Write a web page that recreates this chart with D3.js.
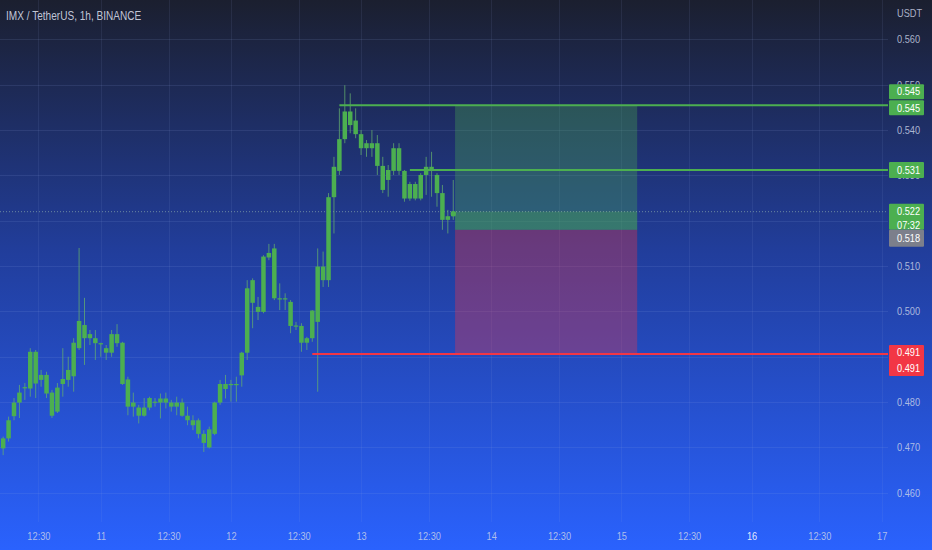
<!DOCTYPE html>
<html><head><meta charset="utf-8">
<script src="https://cdn.jsdelivr.net/npm/d3@7/dist/d3.min.js"></script>
<style>
html,body{margin:0;padding:0;background:#1a1e2e;overflow:hidden}
svg{display:block}
text{font-family:"Liberation Sans","Arimo","DejaVu Sans",sans-serif}
</style></head><body>
<script>
// ---------- data ----------
const title = "IMX / TetherUS, 1h, BINANCE";
const currency = "USDT";
const firstBar = "2023-07-10T06:00:00Z"; // hourly bars
const open  = [0.4698,0.4720,0.4769,0.4799,0.4833,0.4830,0.4911,0.4849,0.4860,0.4821,0.4779,0.4840,0.4849,0.4857,0.4919,0.4970,0.4941,0.4941,0.4930,0.4919,0.4909,0.4950,0.4931,0.4850,0.4790,0.4788,0.4770,0.4788,0.4801,0.4799,0.4808,0.4799,0.4790,0.4799,0.4770,0.4760,0.4760,0.4730,0.4700,0.4730,0.4799,0.4840,0.4840,0.4839,0.4859,0.4909,0.5069,0.5010,0.4999,0.5119,0.5139,0.5029,0.5028,0.5021,0.4968,0.4968,0.4931,0.4941,0.4977,0.5099,0.5069,0.5252,0.5310,0.5380,0.5441,0.5421,0.5391,0.5360,0.5371,0.5371,0.5321,0.5290,0.5310,0.5360,0.5310,0.5249,0.5281,0.5249,0.5301,0.5319,0.5301,0.5261,0.5202,0.5210];
const high  = [0.4724,0.4768,0.4809,0.4838,0.4842,0.4919,0.4915,0.4871,0.4867,0.4827,0.4842,0.4919,0.4900,0.4941,0.5140,0.5030,0.4959,0.4959,0.4931,0.4926,0.4959,0.4972,0.4933,0.4856,0.4821,0.4794,0.4809,0.4812,0.4809,0.4819,0.4821,0.4805,0.4812,0.4808,0.4790,0.4771,0.4764,0.4738,0.4746,0.4801,0.4849,0.4860,0.4849,0.4856,0.4911,0.5069,0.5073,0.5032,0.5124,0.5149,0.5149,0.5062,0.5040,0.5025,0.4977,0.4974,0.4944,0.5003,0.5139,0.5132,0.5261,0.5341,0.5448,0.5499,0.5481,0.5448,0.5400,0.5378,0.5400,0.5389,0.5341,0.5323,0.5371,0.5371,0.5312,0.5286,0.5286,0.5305,0.5341,0.5352,0.5305,0.5279,0.5224,0.5290];
const low   = [0.4683,0.4713,0.4760,0.4765,0.4805,0.4812,0.4809,0.4834,0.4809,0.4765,0.4776,0.4812,0.4834,0.4823,0.4915,0.4882,0.4926,0.4893,0.4900,0.4893,0.4900,0.4922,0.4838,0.4771,0.4768,0.4753,0.4768,0.4782,0.4790,0.4764,0.4786,0.4779,0.4771,0.4768,0.4749,0.4738,0.4720,0.4690,0.4698,0.4727,0.4794,0.4808,0.4801,0.4801,0.4834,0.4893,0.4963,0.4981,0.4996,0.5113,0.5025,0.5003,0.5003,0.4952,0.4959,0.4911,0.4915,0.4933,0.4823,0.5054,0.5054,0.5172,0.5301,0.5371,0.5393,0.5382,0.5345,0.5341,0.5341,0.5301,0.5261,0.5253,0.5301,0.5301,0.5242,0.5244,0.5245,0.5245,0.5257,0.5253,0.5231,0.5180,0.5172,0.5202];
const close = [0.4720,0.4760,0.4799,0.4821,0.4831,0.4911,0.4841,0.4860,0.4819,0.4770,0.4832,0.4851,0.4871,0.4931,0.4979,0.4941,0.4950,0.4930,0.4929,0.4909,0.4950,0.4930,0.4840,0.4790,0.4799,0.4770,0.4788,0.4809,0.4800,0.4808,0.4799,0.4790,0.4799,0.4770,0.4760,0.4749,0.4730,0.4710,0.4740,0.4799,0.4840,0.4829,0.4839,0.4840,0.4909,0.5051,0.5019,0.4999,0.5121,0.5129,0.5029,0.5028,0.5029,0.4968,0.4969,0.4931,0.4941,0.5002,0.5099,0.5069,0.5252,0.5319,0.5380,0.5441,0.5411,0.5391,0.5360,0.5371,0.5360,0.5321,0.5268,0.5312,0.5360,0.5310,0.5249,0.5281,0.5249,0.5301,0.5319,0.5310,0.5261,0.5202,0.5210,0.5220];

const priceTicks = [0.460,0.470,0.480,0.490,0.500,0.510,0.520,0.530,0.540,0.550,0.560];
// tick labels that are not hidden behind the price labels on the scale
const priceTickLabels = [0.460,0.470,0.480,0.500,0.510,0.530,0.540,0.550,0.560];
const timeTicks  = ["2023-07-10T12:30:00Z","2023-07-11T00:00:00Z","2023-07-11T12:30:00Z","2023-07-12T00:00:00Z","2023-07-12T12:30:00Z","2023-07-13T00:00:00Z","2023-07-13T12:30:00Z","2023-07-14T00:00:00Z","2023-07-14T12:30:00Z","2023-07-15T00:00:00Z","2023-07-15T12:30:00Z","2023-07-16T00:00:00Z","2023-07-16T12:30:00Z","2023-07-17T00:00:00Z"];
const timeLabels = ["12:30","11","12:30","12","12:30","13","12:30","14","12:30","15","12:30","16","12:30","17"];

// long position tool
const entryPrice = 0.518, targetPrice = 0.5455, stopPrice = 0.4906, lastPrice = 0.522;
const positionStart = "2023-07-13T17:20:00Z", positionEnd = "2023-07-15T02:55:00Z";
const countdown = "07:32";
const hLines = [
  {price:0.5455, from:"2023-07-12T20:00:00Z", kind:"up"},
  {price:0.5312, from:"2023-07-13T09:00:00Z", kind:"up"},
  {price:0.4906, from:"2023-07-12T15:00:00Z", kind:"down"}
];

// ---------- drawing ----------
const W = 932, H = 550, plotR = 888, plotB = 522, SX = 0.84;
const GREEN = "#4caf50", RED = "#f23645", GRAY = "#7c7f8b";
const svg = d3.select("body").append("svg").attr("width", W).attr("height", H);
const defs = svg.append("defs");
const grad = defs.append("linearGradient").attr("id","bg").attr("x1",0).attr("y1",0).attr("x2",0).attr("y2",1);
grad.append("stop").attr("offset","0%").attr("stop-color","#1b1f2f");
grad.append("stop").attr("offset","45%").attr("stop-color","#213d9a");
grad.append("stop").attr("offset","100%").attr("stop-color","#2a62fe");
svg.append("rect").attr("width",W).attr("height",H).attr("fill","url(#bg)");

const parse = d3.isoParse;
const x = d3.scaleUtc()
  .domain([parse("2023-07-10T05:25:00Z"), parse("2023-07-17T01:10:00Z")])
  .range([0, plotR]);
const y = d3.scaleLinear().domain([0.460, 0.560]).range([492.8, 39.4]);

const bars = open.map((o,i)=>({t:d3.utcHour.offset(parse(firstBar), i), o, h:high[i], l:low[i], c:close[i]}));

// grid
const grid = svg.append("g");
grid.selectAll("line.h").data(priceTicks).join("line")
  .attr("x1",0).attr("x2",plotR).attr("y1",d=>Math.round(y(d))+0.5).attr("y2",d=>Math.round(y(d))+0.5)
  .attr("stroke","rgba(150,170,230,0.13)");
grid.selectAll("line.v").data(timeTicks).join("line")
  .attr("y1",0).attr("y2",plotB).attr("x1",d=>Math.round(x(parse(d)))+0.5).attr("x2",d=>Math.round(x(parse(d)))+0.5)
  .attr("stroke","rgba(150,170,230,0.10)");

// position tool
const px0 = x(parse(positionStart)), px1 = x(parse(positionEnd));
const pos = svg.append("g");
pos.append("rect").attr("x",px0).attr("width",px1-px0).attr("y",y(targetPrice)).attr("height",y(entryPrice)-y(targetPrice))
  .attr("fill","rgba(76,175,80,0.32)");
pos.append("rect").attr("x",px0).attr("width",px1-px0).attr("y",y(lastPrice)).attr("height",y(entryPrice)-y(lastPrice))
  .attr("fill","rgba(76,175,80,0.30)");
pos.append("rect").attr("x",px0).attr("width",px1-px0).attr("y",y(entryPrice)).attr("height",y(stopPrice)-y(entryPrice))
  .attr("fill","rgba(242,54,69,0.34)");

// current price dotted line
svg.append("line").attr("x1",0).attr("x2",plotR).attr("y1",y(lastPrice)).attr("y2",y(lastPrice))
  .attr("stroke","rgba(170,200,180,0.55)").attr("stroke-width",1).attr("stroke-dasharray","1,2");

// candles
const cg = svg.append("g");
const bw = 4.5;
cg.selectAll("line").data(bars).join("line")
  .attr("x1",d=>x(d.t)).attr("x2",d=>x(d.t)).attr("y1",d=>y(d.h)).attr("y2",d=>y(d.l))
  .attr("stroke","rgba(100,175,110,0.75)").attr("stroke-width",1);
cg.selectAll("rect").data(bars).join("rect")
  .attr("x",d=>x(d.t)-bw/2).attr("width",bw)
  .attr("y",d=>y(Math.max(d.o,d.c)))
  .attr("height",d=>Math.max(1.2, Math.abs(y(d.o)-y(d.c))))
  .attr("fill",GREEN);
const lastBar = bars[bars.length-1];
svg.append("circle").attr("cx",x(lastBar.t)).attr("cy",y(lastPrice)+2).attr("r",2.6).attr("fill",GREEN);

// horizontal lines
svg.selectAll("line.lvl").data(hLines).join("line")
  .attr("x1",d=>x(parse(d.from))).attr("x2",plotR)
  .attr("y1",d=>y(d.price)).attr("y2",d=>y(d.price))
  .attr("stroke",d=>d.kind==="up"?GREEN:RED).attr("stroke-width",2);

// axes
const axisColor = "rgba(205,212,232,0.82)";
const yAxis = svg.append("g").attr("transform",`translate(${plotR},0)`)
  .call(d3.axisRight(y).tickValues(priceTickLabels).tickFormat(d3.format(".3f")).tickSize(0).tickPadding(0));
yAxis.select(".domain").remove();
yAxis.selectAll("text").attr("fill",axisColor).attr("font-size",11)
  .attr("x",9/SX).attr("transform",`scale(${SX},1)`);

const xAxis = svg.append("g").attr("transform",`translate(0,530)`)
  .call(d3.axisBottom(x).tickValues(timeTicks.map(parse)).tickFormat((d,i)=>timeLabels[i]).tickSize(0).tickPadding(2));
xAxis.select(".domain").remove();
xAxis.selectAll("text").attr("fill",(d,i)=>timeLabels[i]==="16"?"rgba(238,242,252,0.96)":axisColor)
  .attr("font-size",11).attr("transform",`scale(${SX},1)`);

function sText(g, tx, ty, str, size, fill, dy){
  return g.append("text").attr("transform",`translate(${tx},${ty}) scale(${SX},1)`)
    .attr("dy",dy||0).attr("fill",fill).attr("font-size",size).text(str);
}
sText(svg, 897, 17, currency, 11, axisColor);
sText(svg, 6, 20, title, 12, "rgba(215,220,232,0.9)");

// price labels on the scale
const labels = [
  {top:y(targetPrice)-21, h:15, fill:GREEN, rows:[["0.545",y(targetPrice)-14]]},
  {top:y(targetPrice)-5,  h:15, fill:GREEN, rows:[["0.545",y(targetPrice)+2.5]]},
  {top:y(0.5312)-8, h:16, fill:GREEN, rows:[["0.531",y(0.5312)]]},
  {top:y(lastPrice)-8, h:26, fill:GREEN, rows:[[d3.format(".3f")(lastPrice),y(lastPrice)-1],[countdown,y(lastPrice)+13]]},
  {top:y(entryPrice), h:17, fill:GRAY, rows:[[d3.format(".3f")(entryPrice),y(entryPrice)+8.5]]},
  {top:y(stopPrice)-9, h:31, fill:RED, rows:[["0.491",y(stopPrice)-2],["0.491",y(stopPrice)+14]]}
];
const lg = svg.append("g");
labels.forEach(l=>{
  lg.append("rect").attr("x",889).attr("y",l.top).attr("width",35).attr("height",l.h).attr("rx",1).attr("fill",l.fill);
  l.rows.forEach(r=> sText(lg, 897, r[1], r[0], 11, "#ffffff", "0.36em"));
});
</script>
</body></html>
